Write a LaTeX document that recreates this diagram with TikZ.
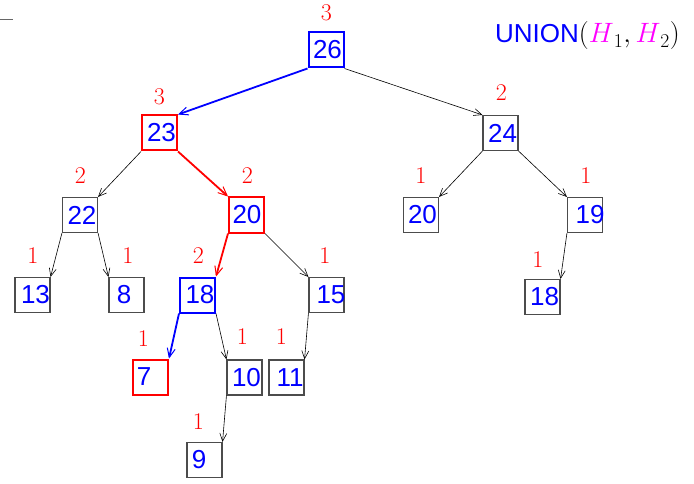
\RequirePackage{fix-cm}
\documentclass[tikz,border=0pt]{standalone}
\usepackage{fontspec}
\setsansfont{Liberation Sans}
\usetikzlibrary{arrows.meta}
\definecolor{mag}{RGB}{255,0,255}
\definecolor{bl}{RGB}{0,0,255}
\definecolor{rd}{RGB}{255,0,0}
\newcommand\numsh[2]{\makebox[0pt][c]{\hspace*{#1}#2}}
\newcommand\numfnt{\sffamily\fontsize{26}{26}\selectfont}
\begin{document}
\begin{tikzpicture}[x=1pt,y=-1pt,
  box/.style={draw=black!70, line width=1.1pt, minimum size=35pt, inner sep=0pt, font=\numfnt, text=bl},
  bbox/.style={box, draw=bl, line width=2pt},
  rbox/.style={box, draw=rd, line width=2pt},
  lab/.style={text=rd, inner sep=0pt, font=\fontsize{24}{24}\selectfont},
  edge/.style={-{Straight Barb[length=8pt,width=7pt]}, line width=0.6pt, black},
  bedge/.style={-{Straight Barb[length=9pt,width=8pt,line width=1pt]}, line width=1.8pt, bl},
  redge/.style={-{Straight Barb[length=9pt,width=8pt,line width=1pt]}, line width=1.8pt, rd}]
\useasboundingbox (0,0) rectangle (694,484);
% dash
\coordinate (d1) at (0,19); \coordinate (d2) at (13,19);
\draw[black!60, line width=0.6pt] (d1) -- (d2);
% title
\node[anchor=base west, inner sep=0pt] (title) at (495,43)
  {{\fontsize{26}{26}\selectfont\textcolor{bl}{\sffamily UNION}}{\fontsize{28}{28}\selectfont$(\textcolor{mag}{H}_1, \textcolor{mag}{H}_2)$}};
% boxes
\node[bbox] (n26) at (326,50) {\numsh{3pt}{26}};
\node[rbox] (n23) at (159.5,133) {\numsh{4pt}{23}};
\node[box]  (n24) at (500.5,133) {\numsh{4pt}{24}};
\node[box]  (n22) at (80,215) {\numsh{4pt}{22}};
\node[rbox] (n20) at (246.5,215) {\numsh{1pt}{20}};
\node[box]  (n20b) at (421,215) {\numsh{3pt}{20}};
\node[box]  (n19) at (585,215) {\numsh{10pt}{19}};
\node[box]  (n13) at (32.5,295) {\numsh{6pt}{13}};
\node[box]  (n8) at (126.5,295) {\numsh{-5pt}{8}};
\node[bbox] (n18) at (197.5,295) {\numsh{5pt}{18}};
\node[box]  (n15) at (326.5,295) {\numsh{9pt}{15}};
\node[box]  (n18b) at (542.5,297) {\numsh{4pt}{18}};
\node[rbox] (n7) at (150.5,377) {\numsh{-13pt}{7}};
\node[box]  (n10) at (244.5,377.5) {\numsh{4pt}{10}};
\node[box]  (n11) at (286.5,377.5) {\numsh{7pt}{11}};
\node[box]  (n9) at (204.5,460) {\numsh{-11pt}{9}};
% labels
\node[lab] (l26) at (326.5,13) {3};
\node[lab] (l23) at (159.5,96.5) {3};
\node[lab] (l24) at (501.5,93) {2};
\node[lab] (l22) at (80.5,176) {2};
\node[lab] (l20) at (247.5,176) {2};
\node[lab] (l20b) at (421,176) {1};
\node[lab] (l19) at (586,176) {1};
\node[lab] (l13) at (33,255.5) {1};
\node[lab] (l8) at (128,255.5) {1};
\node[lab] (l18) at (198.5,255.5) {2};
\node[lab] (l15) at (325,255.5) {1};
\node[lab] (l18b) at (538,259.5) {1};
\node[lab] (l7) at (143.5,339) {1};
\node[lab] (l10) at (242.5,337) {1};
\node[lab] (l11) at (281.5,337) {1};
\node[lab] (l9) at (198.5,422) {1};
% edges
\draw[bedge] (n26.south west) -- (n23.north east);
\draw[edge]  (n26.south east) -- (n24.north west);
\draw[edge]  (n23.south west) -- (n22.north east);
\draw[redge] (n23.south east) -- (n20.north west);
\draw[edge]  (n24.south west) -- (n20b.north east);
\draw[edge]  (n24.south east) -- (n19.north west);
\draw[edge]  (n22.south west) -- (n13.north east);
\draw[edge]  (n22.south east) -- (n8.north west);
\draw[redge] (n20.south west) -- (n18.north east);
\draw[edge]  (n20.south east) -- (n15.north west);
\draw[edge]  (n19.south west) -- (n18b.north east);
\draw[bedge] (n18.south west) -- (n7.north east);
\draw[edge]  (n18.south east) -- (n10.north west);
\draw[edge]  (n15.south west) -- (n11.north east);
\draw[edge]  (n10.south west) -- (n9.north east);
\end{tikzpicture}
\end{document}
